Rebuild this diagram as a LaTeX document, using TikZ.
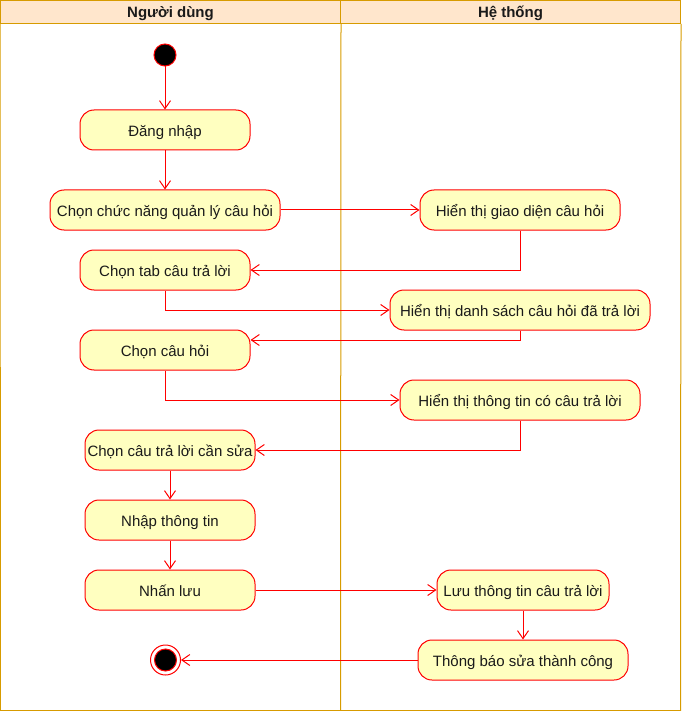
\documentclass[tikz,border=0pt]{standalone}
\usepackage{fontspec}
\setmainfont{Liberation Sans}
\usepackage{xcolor}
\usetikzlibrary{arrows.meta, positioning, calc}
\definecolor{actred}{HTML}{FF0000}
\definecolor{actfill}{HTML}{FFFFC0}
\definecolor{lanefill}{HTML}{FFE6CC}
\definecolor{laneline}{HTML}{D79B00}
\definecolor{acttext}{HTML}{1A1A1A}

\begin{document}
\begin{tikzpicture}[
    x=1pt, y=-1pt,
    >={Straight Barb[length=8pt,width=11pt]},
    line width=1pt,
    activity/.style={rectangle, rounded corners=14pt, draw=actred, fill=actfill, minimum height=40pt, inner sep=2pt, text height=14pt, text depth=1.5pt, text=acttext, font=\fontsize{15}{18}\selectfont},
    initial/.style={circle, draw=actred, fill=black, minimum size=22pt, inner sep=0pt},
    final/.style={circle, draw=actred, fill=white, minimum size=30pt, inner sep=0pt,
        path picture={\filldraw[draw=actred, fill=black] (path picture bounding box.center) circle (11pt);}},
    flow/.style={->, draw=actred},
    lanehead/.style={rectangle, draw=laneline, fill=lanefill, minimum width=340pt, minimum height=23pt, inner sep=0pt, text height=13pt, text depth=2pt, text=acttext, font=\fontsize{15}{18}\selectfont\bfseries}
]
    \useasboundingbox (0,0) rectangle (681,711);
    % --- 1. Define Lanes (Top Row) ---
    \node (userhead) [lanehead] at (170.5,12) {Người dùng};
    \node (syshead) [lanehead] at (510.5,12) {Hệ thống};
    \draw[laneline] (userhead.south west) -- (0.5,710.5) -- (680.5,710.5) -- (syshead.south east);
    \draw[laneline] (userhead.south east) -- (340.5,710.5);
    % --- 2. Activities (Moving down the Y-axis) ---
    \node (start) [initial] at (165,55) {};
    \node (login) [activity, minimum width=170pt] at (165,130) {Đăng nhập};
    \node (menu) [activity, minimum width=230pt] at (165,210) {Chọn chức năng quản lý câu hỏi};
    \node (showui) [activity, minimum width=200pt] at (520,210) {Hiển thị giao diện câu hỏi};
    \node (tab) [activity, minimum width=170pt] at (165,270) {Chọn tab câu trả lời};
    \node (showlist) [activity, minimum width=260pt] at (520,310) {Hiển thị danh sách câu hỏi đã trả lời};
    \node (pickq) [activity, minimum width=170pt] at (165,350) {Chọn câu hỏi};
    \node (showinfo) [activity, minimum width=240pt] at (520,400) {Hiển thị thông tin có câu trả lời};
    \node (picka) [activity, minimum width=170pt] at (170,450) {Chọn câu trả lời cần sửa};
    \node (input) [activity, minimum width=170pt] at (170,520) {Nhập thông tin};
    \node (save) [activity, minimum width=170pt] at (170,590) {Nhấn lưu};
    \node (store) [activity, minimum width=172pt] at (523,590) {Lưu thông tin câu trả lời};
    \node (notify) [activity, minimum width=210pt] at (523,660) {Thông báo sửa thành công};
    \node (stop) [final] at (165.5,660) {};
    % --- 3. Control Flows ---
    \draw[flow] (start) -- (login);
    \draw[flow] (login) -- (menu);
    \draw[flow] (menu) -- (showui);
    \draw[flow] (showui.south) |- (tab.east);
    \draw[flow] (tab.south) |- (showlist.west);
    % return arrow enters above the centre
    \draw[flow] (showlist.south) |- ([yshift=10pt]pickq.east);
    \draw[flow] (pickq.south) |- (showinfo.west);
    \draw[flow] (showinfo.south) |- (picka.east);
    \draw[flow] (picka) -- (input);
    \draw[flow] (input) -- (save);
    \draw[flow] (save) -- (store);
    \draw[flow] (store) -- (notify);
    \draw[flow] (notify) -- (stop);
\end{tikzpicture}
\end{document}
